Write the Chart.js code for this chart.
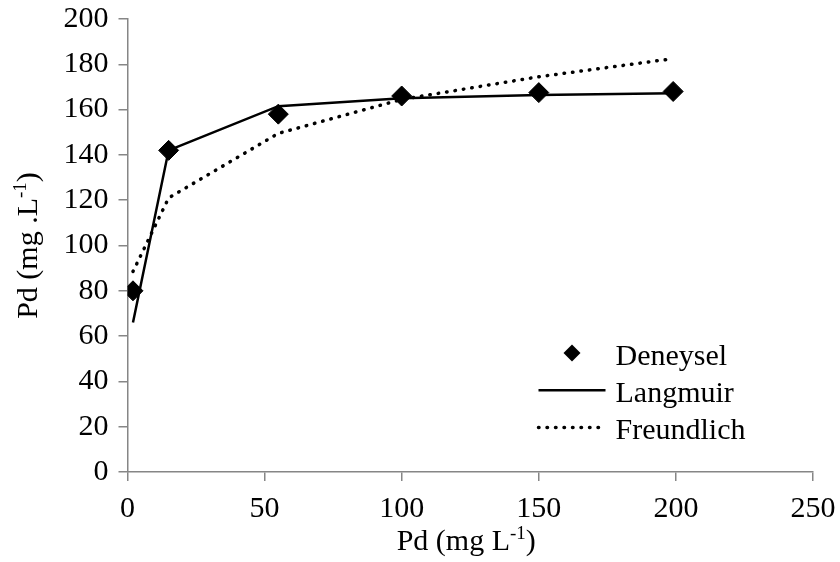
<!DOCTYPE html>
<html>
<head>
<meta charset="utf-8">
<script src="https://cdn.jsdelivr.net/npm/chart.js@4.4.0/dist/chart.umd.min.js"></script>
<style>
  body { margin: 0; background: #fff; }
  canvas { display: block; }
</style>
</head>
<body>
<canvas id="isotherm" width="840" height="562"></canvas>
<script>
// Pd concentrations (x) and the three series
const pdConc = [2, 15, 55, 100, 150, 199];
const deneysel = [80, 142, 158, 166, 167.5, 168];
const langmuir = [66, 142, 161.5, 165, 166.5, 167.2];
const freundlich = [88.5, 121, 149.5, 164.5, 174.5, 182.5];

const xTicks = [0, 50, 100, 150, 200, 250];
const yTicks = [0, 20, 40, 60, 80, 100, 120, 140, 160, 180, 200];

const seriesNames = ['Deneysel', 'Langmuir', 'Freundlich'];
const xTitle = ['Pd (mg L', '-1', ')'];
const yTitle = ['Pd (mg .L', '-1', ')'];

const FONT = "'Liberation Serif', 'Times New Roman', serif";
const FONT_SIZE = 30;
const AXIS_GRAY = '#868686';

const toPoints = ys => ys.map((y, i) => ({ x: pdConc[i], y: y }));

// text with a superscript part, centred on cx
function drawSupText(ctx, parts, cx, cy) {
    const main = FONT_SIZE + 'px ' + FONT;
    const sup = '19px ' + FONT;
    ctx.font = main;
    const w1 = ctx.measureText(parts[0]).width;
    const w3 = ctx.measureText(parts[2]).width;
    ctx.font = sup;
    const w2 = ctx.measureText(parts[1]).width;
    let x = cx - (w1 + w2 + w3) / 2;
    ctx.textAlign = 'left';
    ctx.textBaseline = 'alphabetic';
    ctx.font = main;
    ctx.fillText(parts[0], x, cy);
    x += w1;
    ctx.font = sup;
    ctx.fillText(parts[1], x, cy - 11);
    x += w2;
    ctx.font = main;
    ctx.fillText(parts[2], x, cy);
}

const axisTitles = {
    id: 'axisTitles',
    afterDraw(chart) {
        const ctx = chart.ctx;
        const area = chart.chartArea;
        ctx.save();
        ctx.fillStyle = '#000';
        drawSupText(ctx, xTitle, (area.left + area.right) / 2 - 4, 550);
        ctx.translate(37, (area.top + area.bottom) / 2);
        ctx.rotate(-Math.PI / 2);
        drawSupText(ctx, yTitle, 0, 0);
        ctx.restore();
    }
};

// legend drawn inside the plot, lower right
const insideLegend = {
    id: 'insideLegend',
    afterDraw(chart) {
        const ctx = chart.ctx;
        const area = chart.chartArea;
        const x0 = area.left + 411;
        const x1 = area.left + 478;
        const tx = area.left + 488;
        let base = area.top + 346;
        ctx.save();
        chart.data.datasets.forEach(ds => {
            const y = base - 12;
            ctx.strokeStyle = '#000';
            ctx.fillStyle = '#000';
            if (ds.showLine === false) {
                const cx = (x0 + x1) / 2, r = 8.5;
                ctx.beginPath();
                ctx.moveTo(cx, y - r);
                ctx.lineTo(cx + r, y);
                ctx.lineTo(cx, y + r);
                ctx.lineTo(cx - r, y);
                ctx.closePath();
                ctx.fill();
            } else {
                ctx.lineWidth = ds.borderWidth;
                ctx.lineCap = ds.borderCapStyle || 'butt';
                ctx.setLineDash(ds.borderDash || []);
                ctx.beginPath();
                ctx.moveTo(x0, y);
                ctx.lineTo(x1, y);
                ctx.stroke();
                ctx.setLineDash([]);
            }
            ctx.font = FONT_SIZE + 'px ' + FONT;
            ctx.textAlign = 'left';
            ctx.textBaseline = 'alphabetic';
            ctx.fillText(ds.label, tx, base);
            base += 37.2;
        });
        ctx.restore();
    }
};

new Chart(document.getElementById('isotherm'), {
    type: 'scatter',
    data: {
        datasets: [
            {
                label: seriesNames[0],
                data: toPoints(deneysel),
                showLine: false,
                pointStyle: 'rectRot',
                pointRadius: 10,
                backgroundColor: '#000',
                borderColor: '#000',
                order: 0
            },
            {
                label: seriesNames[1],
                data: toPoints(langmuir),
                showLine: true,
                pointRadius: 0,
                borderColor: '#000',
                borderWidth: 2.5,
                order: 1
            },
            {
                label: seriesNames[2],
                data: toPoints(freundlich),
                showLine: true,
                pointRadius: 0,
                borderColor: '#000',
                borderWidth: 3.5,
                borderDash: [0.5, 8],
                borderCapStyle: 'round',
                order: 2
            }
        ]
    },
    options: {
        responsive: false,
        animation: false,
        layout: { padding: { top: 11, right: 27, left: 0, bottom: 0 } },
        plugins: {
            legend: { display: false },
            tooltip: { enabled: false }
        },
        scales: {
            x: {
                type: 'linear',
                min: 0,
                max: 250,
                afterBuildTicks: s => { s.ticks = xTicks.map(v => ({ value: v })); },
                afterFit: s => { s.height = 90; },
                ticks: { color: '#000', font: { family: FONT, size: FONT_SIZE, lineHeight: 1.75 }, padding: 2, maxRotation: 0 },
                grid: { drawOnChartArea: false, color: AXIS_GRAY, tickLength: 9, lineWidth: 1.5 },
                border: { color: AXIS_GRAY, width: 1.5 }
            },
            y: {
                min: 0,
                max: 200,
                afterBuildTicks: s => { s.ticks = yTicks.map(v => ({ value: v })); },
                afterFit: s => { s.width = 127.5; },
                ticks: { color: '#000', font: { family: FONT, size: FONT_SIZE, lineHeight: 0.6 }, padding: 10 },
                grid: { drawOnChartArea: false, color: AXIS_GRAY, tickLength: 9, lineWidth: 1.5 },
                border: { color: AXIS_GRAY, width: 1.5 }
            }
        }
    },
    plugins: [axisTitles, insideLegend]
});
</script>
</body>
</html>
